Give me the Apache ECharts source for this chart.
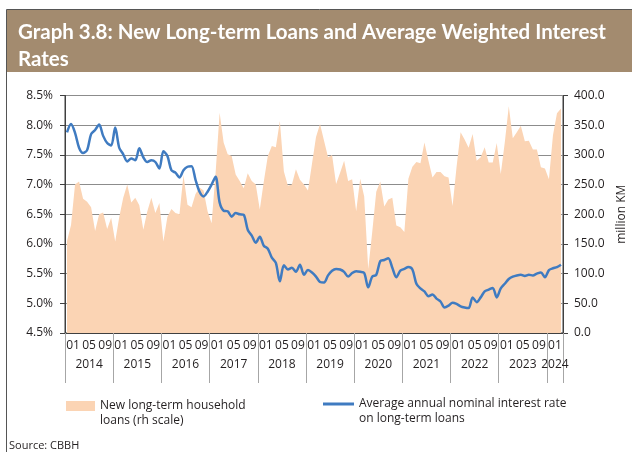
<!DOCTYPE html>
<html>
<head>
<meta charset="utf-8">
<script src="https://cdn.jsdelivr.net/npm/echarts@6/dist/echarts.min.js"></script>
<style>
  html, body { margin: 0; padding: 0; background: #fff; }
  #chart { width: 638px; height: 452px; }
</style>
</head>
<body>
<div id="chart"></div>
<script>
// years on the axis; 2024 only Jan-Apr
const years = ['2014', '2015', '2016', '2017', '2018', '2019', '2020', '2021', '2022', '2023', '2024'];
const monthsInYear = [12, 12, 12, 12, 12, 12, 12, 12, 12, 12, 4];
const monthTickLabels = ['01', '05', '09'];

// new long-term household loans, million KM (rh scale)
const loans = [
  155, 182, 250, 255, 226, 221, 212, 172, 200, 203, 175, 194, // 2014
  154, 195, 228, 250, 220, 228, 215, 174, 205, 228, 202, 219, // 2015
  154, 196, 209, 202, 200, 266, 216, 212, 234, 245, 240, 205, // 2016
  185, 270, 371, 321, 301, 298, 267, 256, 244, 269, 256, 250, // 2017
  208, 255, 298, 315, 313, 357, 272, 248, 250, 276, 258, 250, // 2018
  240, 285, 330, 352, 324, 296, 300, 251, 270, 290, 256, 259, // 2019
  205, 260, 230, 108, 170, 238, 255, 213, 225, 228, 181, 178, // 2020
  170, 260, 280, 288, 286, 321, 290, 262, 271, 271, 264, 262, // 2021
  214, 280, 338, 326, 312, 335, 290, 296, 313, 287, 287, 320, // 2022
  268, 321, 382, 328, 338, 349, 323, 324, 309, 309, 279, 277, // 2023
  259, 333, 370, 378                                          // 2024
];

// average annual nominal interest rate on long-term loans, %
const rates = [
  7.88, 8.02, 7.87, 7.62, 7.53, 7.58, 7.85, 7.92, 8.01, 7.82, 7.70, 7.66, // 2014
  7.96, 7.62, 7.51, 7.39, 7.44, 7.41, 7.61, 7.46, 7.38, 7.41, 7.38, 7.27, // 2015
  7.56, 7.48, 7.24, 7.20, 7.12, 7.24, 7.30, 7.31, 7.08, 6.88, 6.80, 6.88, // 2016
  7.00, 7.13, 6.70, 6.56, 6.55, 6.46, 6.52, 6.50, 6.49, 6.24, 6.14, 6.02, // 2017
  6.12, 5.97, 5.92, 5.77, 5.68, 5.37, 5.64, 5.57, 5.60, 5.53, 5.65, 5.48, // 2018
  5.56, 5.52, 5.45, 5.36, 5.35, 5.47, 5.55, 5.58, 5.57, 5.53, 5.45, 5.51, // 2019
  5.54, 5.53, 5.51, 5.27, 5.45, 5.48, 5.71, 5.73, 5.76, 5.60, 5.44, 5.55, // 2020
  5.58, 5.61, 5.57, 5.33, 5.25, 5.20, 5.12, 5.15, 5.08, 5.03, 4.93, 4.96, // 2021
  5.01, 4.99, 4.95, 4.93, 4.92, 5.10, 5.02, 5.10, 5.20, 5.23, 5.26, 5.10, // 2022
  5.25, 5.33, 5.41, 5.45, 5.47, 5.48, 5.46, 5.48, 5.47, 5.50, 5.52, 5.44, // 2023
  5.56, 5.59, 5.61, 5.65                                                  // 2024
];

const loansName = 'New long-term household\nloans (rh scale)';
const ratesName = 'Average annual nominal interest rate\non long-term loans';

// monthly categories "YYYY-MM"
const categories = [];
years.forEach(function (y, k) {
  for (let m = 1; m <= monthsInYear[k]; m++) {
    categories.push(y + '-' + (m < 10 ? '0' + m : m));
  }
});
const lastYear = years[years.length - 1];

const txt = '#231f20';
const font = 'Open Sans';

const chart = echarts.init(document.getElementById('chart'));

// legend text: blank first line so the first real line sits level with the key
function legendText(name) { return '\n' + name; }

// year label sits in the middle of its (possibly partial) year
function isYearMid(i, v) {
  const m = i % 12;
  return v.slice(0, 4) === lastYear ? m === 2 : m === 6;
}

const option = {
  backgroundColor: '#fff',
  animation: false,
  textStyle: { fontFamily: font, color: txt },
  title: [
    {
      text: 'Graph 3.8: New Long-term Loans and Average Weighted Interest\nRates',
      left: 13,
      top: 14,
      textStyle: { color: '#fff', fontFamily: 'Lato', fontWeight: 'bold', fontSize: 20.5, lineHeight: 27 }
    },
    {
      text: 'Source: CBBH',
      left: 9,
      top: 440,
      padding: 0,
      textStyle: { color: txt, fontFamily: font, fontWeight: 'normal', fontSize: 11 }
    }
  ],
  graphic: [
    { type: 'rect', z: -1, shape: { x: 7, y: 10, width: 625, height: 62 }, style: { fill: '#a38b6f' } },
    { type: 'line', shape: { x1: 6.5, y1: 9.5, x2: 6.5, y2: 452 }, style: { stroke: '#555', lineWidth: 1 } },
    { type: 'line', shape: { x1: 6.5, y1: 9.5, x2: 632, y2: 9.5 }, style: { stroke: '#555', lineWidth: 1 } }
  ],
  legend: [
    {
      data: [loansName],
      formatter: legendText,
      left: 66,
      top: 383.5,
      padding: 0,
      icon: 'rect',
      itemWidth: 29,
      itemHeight: 10,
      textStyle: { fontFamily: font, fontSize: 12, color: txt, lineHeight: 15 }
    },
    {
      data: [ratesName],
      formatter: legendText,
      left: 323,
      top: 381.5,
      padding: 0,
      icon: 'rect',
      itemWidth: 31,
      itemHeight: 3,
      textStyle: { fontFamily: font, fontSize: 12, color: txt, lineHeight: 15 }
    }
  ],
  grid: {
    left: 65,
    right: 75,
    top: 95.5,
    bottom: 119,
    show: true,
    borderColor: '#404040',
    borderWidth: 1
  },
  xAxis: [
    {
      // month labels
      type: 'category',
      data: categories,
      boundaryGap: true,
      axisLine: { lineStyle: { color: '#404040' } },
      axisTick: { show: false },
      axisLabel: {
        interval: function (i) { return i % 4 === 2; },
        showMinLabel: true,
        showMaxLabel: true,
        hideOverlap: false,
        formatter: function (v, i) { return monthTickLabels[((i % 12) - 2) / 4]; },
        margin: 7,
        padding: [0, 4, 0, 0],
        fontSize: 12,
        color: txt
      }
    },
    {
      // year labels
      type: 'category',
      data: categories,
      boundaryGap: true,
      position: 'bottom',
      axisLine: { show: false },
      axisTick: { show: false },
      axisLabel: {
        interval: isYearMid,
        showMinLabel: true,
        showMaxLabel: true,
        hideOverlap: false,
        formatter: function (v) { return v.slice(0, 4); },
        margin: 26,
        padding: [0, 4, 0, 0],
        fontSize: 12,
        color: txt
      }
    },
    {
      // year separators, one per 12 months
      type: 'value',
      min: 0,
      max: categories.length,
      interval: 12,
      position: 'bottom',
      axisLine: { show: false },
      axisLabel: { show: false },
      splitLine: { show: false },
      axisTick: { show: true, length: 50, lineStyle: { color: '#a6a6a6' } }
    }
  ],
  yAxis: [
    {
      type: 'value',
      min: 4.5,
      max: 8.5,
      interval: 0.5,
      axisLine: { show: true, lineStyle: { color: '#404040' } },
      axisTick: { show: true, inside: false, length: 5, lineStyle: { color: '#404040' } },
      axisLabel: { formatter: function (v) { return v.toFixed(1) + '%'; }, margin: 12, fontSize: 12, color: txt },
      splitLine: { show: true, lineStyle: { color: '#8c8c8c', width: 1 } }
    },
    {
      type: 'value',
      min: 0,
      max: 400,
      interval: 50,
      position: 'right',
      name: 'million KM',
      nameLocation: 'middle',
      nameRotate: 90,
      nameGap: 52,
      nameTextStyle: { fontSize: 12, color: txt },
      axisLine: { show: true, lineStyle: { color: '#404040' } },
      axisTick: { show: true, inside: false, length: 5, lineStyle: { color: '#404040' } },
      axisLabel: { formatter: function (v) { return v.toFixed(1); }, margin: 11, fontSize: 12, color: txt },
      splitLine: { show: false }
    }
  ],
  series: [
    {
      name: loansName,
      type: 'line',
      xAxisIndex: 0,
      yAxisIndex: 1,
      data: loans,
      symbol: 'none',
      color: '#fbd4b4',
      lineStyle: { width: 0 },
      areaStyle: { color: '#fbd4b4', opacity: 1 },
      z: 1
    },
    {
      name: ratesName,
      type: 'line',
      xAxisIndex: 0,
      yAxisIndex: 0,
      data: rates,
      symbol: 'none',
      smooth: 0.3,
      color: '#3f7bc1',
      lineStyle: { width: 2.5, color: '#3f7bc1' },
      z: 3
    }
  ]
};

chart.setOption(option);
</script>
</body>
</html>
